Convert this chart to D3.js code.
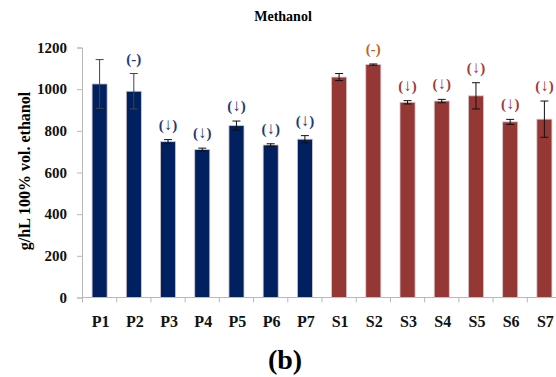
<!DOCTYPE html>
<html>
<head>
<meta charset="utf-8">
<script src="https://cdn.jsdelivr.net/npm/d3@7.9.0/dist/d3.min.js"></script>
<style>
  body { margin: 0; background: #fff; }
  svg { display: block; font-family: "Liberation Serif", "DejaVu Serif", serif; }
</style>
</head>
<body>
<svg width="556" height="377"></svg>
<script>
// samples and values
const categories = ["P1", "P2", "P3", "P4", "P5", "P6", "P7", "S1", "S2", "S3", "S4", "S5", "S6", "S7"];
const means = [1025, 990, 748, 710, 825, 732, 760, 1058, 1118, 937, 943, 968, 843, 856];
const errors = [117, 85, 10, 7, 22, 6, 17, 17, 3, 8, 8, 63, 12, 87];
const marks = ["", "-", "↓", "↓", "↓", "↓", "↓", "", "-", "↓", "↓", "↓", "↓", "↓"];
const yTicks = [0, 200, 400, 600, 800, 1000, 1200];

let svg = d3.select("svg");

let x = d3.scaleBand()
    .domain(categories)
    .range([82.5, 561.5])
    .paddingInner(0.56)
    .paddingOuter(0.28);

let y = d3.scaleLinear().domain([0, 1200]).range([297.5, 47.5]);

let barColor = (d) => d.startsWith("P") ? "#002060" : "#953735";
let markColor = (d, i) => {
    if (d.startsWith("P")) return "#1f3a78";
    return marks[i] === "-" ? "#c0651f" : "#a33a3a";
};

// title
svg.append("text")
    .attr("x", 283).attr("y", 21)
    .attr("text-anchor", "middle")
    .attr("font-size", 14).attr("font-weight", "bold")
    .text("Methanol");

// y axis
let yAxis = svg.append("g")
    .attr("transform", "translate(82,0)")
    .call(d3.axisLeft(y).tickValues(yTicks).tickFormat(d3.format("d")).tickSize(5).tickPadding(10));
yAxis.select(".domain").attr("stroke", "#b8b8b8");
yAxis.selectAll(".tick line").attr("stroke", "#b8b8b8");
yAxis.selectAll(".tick text")
    .attr("font-size", 15).attr("font-weight", "bold")
    .attr("font-family", "Liberation Serif, serif").attr("fill", "#111");

svg.append("text")
    .attr("transform", "translate(30,171) rotate(-90)")
    .attr("text-anchor", "middle")
    .attr("font-size", 16).attr("font-weight", "bold")
    .text("g/hL 100% vol. ethanol");

// x axis line and tick marks at band boundaries
svg.append("line")
    .attr("x1", 82).attr("x2", 556)
    .attr("y1", y(0)).attr("y2", y(0))
    .attr("stroke", "#b8b8b8");

svg.selectAll(".xtick")
    .data(categories)
    .enter()
    .append("line")
    .attr("x1", d => x(d) - (x.step() - x.bandwidth()) / 2)
    .attr("x2", d => x(d) - (x.step() - x.bandwidth()) / 2)
    .attr("y1", y(0)).attr("y2", y(0) + 5)
    .attr("stroke", "#b8b8b8");

svg.selectAll(".xlabel")
    .data(categories)
    .enter()
    .append("text")
    .attr("x", d => x(d) + x.bandwidth() / 2 + 1)
    .attr("y", 327)
    .attr("text-anchor", "middle")
    .attr("font-size", 16).attr("font-weight", "bold")
    .attr("fill", "#111")
    .text(d => d);

// bars
svg.selectAll(".bar")
    .data(categories)
    .enter()
    .append("rect")
    .attr("x", d => x(d))
    .attr("y", (d, i) => y(means[i]))
    .attr("width", x.bandwidth())
    .attr("height", (d, i) => y(0) - y(means[i]))
    .attr("fill", barColor)
    .attr("stroke", "#d8c8cc")
    .attr("stroke-width", 0.8);

// error bars
let eb = svg.selectAll(".err")
    .data(categories)
    .enter()
    .append("g")
    .attr("stroke", (d, i) => i < 2 ? "#444" : "#111")
    .attr("stroke-width", 1);
eb.append("line")
    .attr("x1", d => x(d) + x.bandwidth() / 2)
    .attr("x2", d => x(d) + x.bandwidth() / 2)
    .attr("y1", (d, i) => y(means[i] - errors[i]))
    .attr("y2", (d, i) => y(means[i] + errors[i]));
[-1, 1].forEach(s => {
    eb.append("line")
        .attr("x1", d => x(d) + x.bandwidth() / 2 - 4)
        .attr("x2", d => x(d) + x.bandwidth() / 2 + 4)
        .attr("y1", (d, i) => y(means[i] + s * errors[i]))
        .attr("y2", (d, i) => y(means[i] + s * errors[i]));
});

// significance marks: parentheses around a dash or a down arrow
let mk = svg.selectAll(".mark")
    .data(categories)
    .enter()
    .filter((d, i) => marks[i] !== "")
    .append("text")
    .attr("x", d => x(d) + x.bandwidth() / 2)
    .attr("y", d => y(means[categories.indexOf(d)] + errors[categories.indexOf(d)]) - 10)
    .attr("text-anchor", "middle")
    .attr("font-size", 15).attr("font-weight", "bold")
    .attr("fill", (d) => markColor(d, categories.indexOf(d)));
mk.append("tspan").text("(");
mk.append("tspan")
    .attr("font-size", d => marks[categories.indexOf(d)] === "↓" ? 17 : 15)
    .attr("font-weight", d => marks[categories.indexOf(d)] === "↓" ? "normal" : "bold")
    .text(d => marks[categories.indexOf(d)]);
mk.append("tspan").text(")");

// panel letter
svg.append("text")
    .attr("x", 285).attr("y", 369)
    .attr("text-anchor", "middle")
    .attr("font-size", 28).attr("font-weight", "bold")
    .text("(b)");
</script>
</body>
</html>
